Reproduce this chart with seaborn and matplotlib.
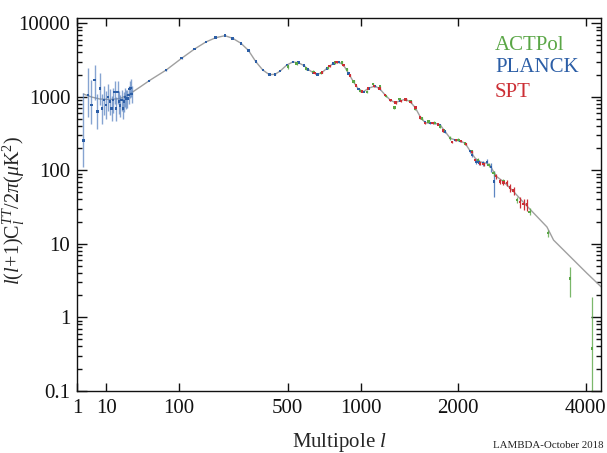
import numpy as np
import pandas as pd
import matplotlib
matplotlib.use("Agg")
import matplotlib.pyplot as plt
from matplotlib.ticker import FixedLocator, NullLocator, LogLocator, NullFormatter
import seaborn as sns

# ---------------- data ----------------
theory_l = [2, 4, 7, 12, 19, 27, 38, 51, 76, 106, 136, 166, 195, 225, 252, 283, 313, 344, 375,
            406, 434, 460, 495, 528, 560, 594, 619, 652, 678, 707, 741, 787, 829, 861, 899, 938,
            979, 1020, 1062, 1120, 1165, 1211, 1258, 1306, 1355, 1405, 1456, 1508, 1562, 1616,
            1672, 1729, 1787, 1846, 1906, 1967, 2030, 2093, 2158, 2225, 2292, 2384, 2430, 2477,
            2525, 2621, 2771, 2926, 3033, 3308, 3421, 3717, 4027, 4300]
theory_D = [1088, 991, 930, 916, 945, 1088, 1355, 1688, 2308, 3330, 4456, 5550, 6349, 6760, 6230,
            5327, 4251, 2993, 2308, 1992, 2017, 2237, 2699, 2966, 2901, 2641, 2344, 2121, 2017,
            2121, 2434, 2847, 2938, 2699, 2081, 1600, 1261, 1169, 1301, 1398, 1261, 1055, 902,
            829, 882, 922, 855, 713, 534, 443, 435, 435, 412, 334, 272, 258, 250, 232, 182, 145,
            130, 124, 116, 95.4, 81.5, 69.7, 51.3, 36.4, 29.2, 16.9, 11.2, 6.65, 3.96, 2.60]

# Planck low-l (unbinned)
planck_low_l = list(range(2, 30))
planck_low_D = [252, 1055, 771, 1688, 625, 1301, 695, 902, 771, 991, 855, 695, 902, 1169, 695,
                1169, 855, 757, 902, 695, 855, 991, 922, 940, 1060, 1263, 1320, 1088]
planck_low_lo = [110, 534, 420, 900, 360, 760, 420, 560, 490, 640, 560, 460, 600, 800, 470,
                 800, 590, 530, 640, 500, 620, 720, 680, 700, 790, 950, 1000, 830]
planck_low_hi = [1130, 2434, 1700, 2700, 1100, 2100, 1100, 1400, 1180, 1480, 1260, 1020, 1320,
                 1650, 990, 1640, 1200, 1060, 1240, 950, 1160, 1330, 1230, 1250, 1400, 1650, 1720,
                 1400]

# Planck high-l (binned)
planck_l = [49, 76, 106, 136, 166, 195, 225, 252, 283, 313, 344, 375, 406, 434, 460, 495, 528,
            560, 594, 619, 652, 678, 707, 741, 787, 829, 861, 899, 938, 979, 1020, 1062, 1120,
            1165, 1211, 1258, 1306, 1355, 1405, 1456, 1508, 1562, 1616, 1672, 1729, 1787, 1846,
            1906, 1967, 2030, 2093, 2158, 2180, 2240, 2278, 2330, 2384, 2440, 2487]
planck_D = [1650, 2308, 3330, 4456, 5550, 6349, 6760, 6230, 5327, 4251, 2993, 2308, 1992, 2017,
            2237, 2699, 2966, 2901, 2641, 2344, 2121, 2017, 2121, 2434, 2847, 2938, 2699, 2081,
            1600, 1261, 1169, 1301, 1398, 1261, 1055, 902, 829, 882, 922, 855, 713, 534, 443,
            435, 435, 412, 334, 272, 258, 250, 232, 182, 161, 130, 128, 124, 130, 110, 70]
planck_err = [40, 40, 50, 60, 70, 70, 70, 70, 60, 50, 40, 35, 30, 30, 30, 30, 35, 35, 30, 30, 28,
              28, 28, 30, 35, 35, 35, 28, 25, 20, 20, 20, 22, 20, 18, 16, 15, 15, 15, 15, 14, 12,
              10, 10, 10, 10, 9, 8, 8, 8, 8, 8, 10, 10, 10, 10, 14, 16, 27]

# ACTPol
act_l = [500, 550, 606, 652, 700, 750, 800, 849, 887, 940, 993, 1048, 1100, 1165, 1220, 1299,
         1348, 1410, 1460, 1508, 1580, 1653, 1720, 1787, 1825, 1900, 2008, 2090, 2180, 2260,
         2407, 2477, 2621, 2823, 3021, 3326, 3717, 4120]
act_D = [2560, 2847, 2434, 2188, 2100, 2480, 2901, 2901, 2357, 1600, 1206, 1169, 1488, 1368,
         1030, 717, 922, 900, 860, 695, 508, 457, 440, 391, 352, 275, 258, 232, 180, 138, 118,
         91, 70, 39.3, 27.2, 13.9, 3.38, 0.377]
act_err = [180, 160, 130, 110, 90, 100, 130, 130, 100, 70, 50, 50, 60, 50, 40, 30, 35, 35, 30,
           28, 22, 20, 20, 18, 16, 14, 12, 12, 10, 9, 9, 8, 6, 4, 3, 1.6, 1.5, 1.53]

# SPT
spt_l = [660, 710, 760, 810, 860, 910, 960, 1010, 1060, 1110, 1160, 1210, 1260, 1310, 1360, 1410,
         1460, 1510, 1562, 1616, 1700, 1760, 1820, 1926, 1980, 2040, 2100, 2181, 2225, 2292,
         2337, 2515, 2573, 2621, 2672, 2721, 2771, 2874, 2926, 2980]
spt_D = [2100, 2130, 2600, 2940, 2700, 1950, 1420, 1180, 1290, 1400, 1290, 1060, 900, 830, 880,
         920, 850, 710, 518, 435, 435, 420, 345, 244, 258, 248, 228, 178, 138, 124, 121, 83, 70,
         68, 67, 58, 53, 37, 35, 34]
spt_err = [60, 60, 70, 80, 70, 55, 40, 35, 35, 40, 35, 30, 26, 24, 25, 26, 25, 20, 15, 13, 13,
           13, 11, 8, 8, 8, 8, 7, 6, 6, 6, 6, 6, 6, 6, 7, 7, 6, 6, 6]

xticks = [1, 10, 100, 500, 1000, 2000, 4000]
xtick_labels = ["1", "10", "100", "500", "1000", "2000", "4000"]
yticks = [0.1, 1, 10, 100, 1000, 10000]
ytick_labels = ["0.1", "1", "10", "100", "1000", "10000"]

legend_labels = ["ACTPol", "PLANCK", "SPT"]

# ---------------- style ----------------
sns.set_style("ticks")
plt.rcParams["font.family"] = ["Liberation Serif", "DejaVu Serif"]
plt.rcParams["mathtext.fontset"] = "custom"
plt.rcParams["mathtext.rm"] = "Liberation Serif"
plt.rcParams["mathtext.it"] = "Liberation Serif:italic"
plt.rcParams["mathtext.bf"] = "Liberation Serif:bold"

c_planck = "#2c5ea6"
c_planck_bar = "#5d86c2"
c_act = "#5aa646"
c_spt = "#cc2f35"
c_theory = "#a0a0a0"

fig = plt.figure(figsize=(6.07, 4.53), dpi=100)
ax = fig.add_axes([0.12735, 0.13753, 0.86277, 0.82208])

ax.set_xscale("function", functions=(lambda x: np.power(np.clip(x, 0, None), 0.4),
                                      lambda v: np.power(np.clip(v, 0, None), 2.5)))
ax.set_yscale("log")

# theory
theory = pd.DataFrame({"l": theory_l, "D": theory_D})
sns.lineplot(data=theory, x="l", y="D", ax=ax, color=c_theory, lw=1.0, zorder=1)

# Planck low-l
pl_low = np.array(planck_low_D, dtype=float)
ax.errorbar(planck_low_l, pl_low,
            yerr=[pl_low - np.array(planck_low_lo), np.array(planck_low_hi) - pl_low],
            fmt="none", ecolor=c_planck_bar, elinewidth=1.0, alpha=0.75, capsize=0, zorder=2)

# high-l datasets error bars
ax.errorbar(planck_l, planck_D, yerr=planck_err, fmt="none", ecolor=c_planck_bar,
            elinewidth=0.9, capsize=0, zorder=2)
act_D_arr = np.array(act_D)
act_err_arr = np.array(act_err)
act_lo = np.where(act_D_arr - act_err_arr <= 0, act_D_arr - 0.005, act_err_arr)
ax.errorbar(act_l, act_D, yerr=[act_lo, act_err_arr], fmt="none", ecolor=c_act,
            elinewidth=0.9, capsize=0, zorder=2, alpha=0.8)
ax.errorbar(spt_l, spt_D, yerr=spt_err, fmt="none", ecolor=c_spt,
            elinewidth=0.9, capsize=0, zorder=2)

pts = pd.concat([
    pd.DataFrame({"l": planck_low_l, "D": planck_low_D, "set": "PLANCK"}),
    pd.DataFrame({"l": planck_l, "D": planck_D, "set": "PLANCK"}),
    pd.DataFrame({"l": act_l, "D": act_D, "set": "ACTPol"}),
    pd.DataFrame({"l": spt_l, "D": spt_D, "set": "SPT"}),
])
sns.scatterplot(data=pts, x="l", y="D", hue="set", ax=ax, marker="s", s=3, linewidth=0,
                palette={"PLANCK": c_planck, "ACTPol": c_act, "SPT": c_spt},
                legend=False, zorder=3)

# axes
ax.set_xlim(1, 4300)
ax.set_ylim(0.1, 11659)
ax.xaxis.set_major_locator(FixedLocator(xticks))
ax.set_xticklabels(xtick_labels)
ax.xaxis.set_minor_locator(NullLocator())
ax.yaxis.set_major_locator(FixedLocator(yticks))
ax.set_yticklabels(ytick_labels)
ax.yaxis.set_minor_locator(LogLocator(base=10, subs=np.arange(2, 10), numticks=20))
ax.yaxis.set_minor_formatter(NullFormatter())

ax.tick_params(which="both", direction="in", top=True, right=True, colors="#111111",
               labelsize=15, width=1.0)
ax.tick_params(axis="x", which="major", length=6, pad=6)
ax.tick_params(axis="y", which="major", length=7.5, pad=5)
ax.tick_params(axis="y", which="minor", length=3.8)
for s in ax.spines.values():
    s.set_linewidth(1.0)
    s.set_color("#111111")

ax.set_xlabel(r"Multipole $l$", fontsize=15, labelpad=2)
ax.set_ylabel(r"$l(l\!+\!1)\mathrm{C}_{l}^{TT}/2\pi(\mu\mathrm{K}^{2})$", fontsize=14.5,
              labelpad=2)
ax.yaxis.set_label_coords(-0.096, 0.485)
ax.xaxis.set_label_coords(0.5, -0.108)

for lab, col, yy in zip(legend_labels, [c_act, c_planck, c_spt], [0.9149, 0.8566, 0.7879]):
    ax.text(0.7976, yy, lab, transform=ax.transAxes, color=col, fontsize=15,
            ha="left", va="baseline")

fig.text(0.995, 0.006, "LAMBDA-October 2018", ha="right", va="bottom", fontsize=7.8,
         color="#222222")

fig.savefig("out.png", dpi=100)
